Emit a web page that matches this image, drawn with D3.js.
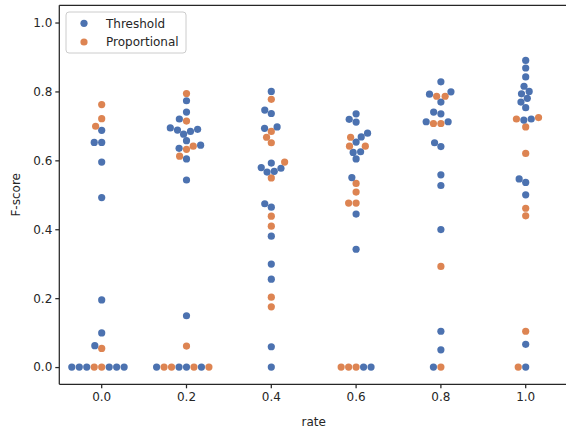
<!DOCTYPE html>
<html>
<head>
<meta charset="utf-8">
<script src="https://cdn.jsdelivr.net/npm/d3@7"></script>
<style>
  body { margin: 0; background: #fff; }
  svg { display: block; font-family: "DejaVu Sans", sans-serif; }
</style>
</head>
<body>
<div id="chart"></div>
<script>
const categories = ["0.0", "0.2", "0.4", "0.6", "0.8", "1.0"];
const seriesNames = ["Threshold", "Proportional"];
const yTicks = [0.0, 0.2, 0.4, 0.6, 0.8, 1.0];

// F-scores per rate, one list per method
const thresholdScores = [
  [0.687, 0.652, 0.652, 0.595, 0.492, 0.195, 0.099, 0.062, 0, 0, 0, 0, 0, 0],
  [0.773, 0.740, 0.720, 0.694, 0.690, 0.688, 0.684, 0.676, 0.657, 0.644, 0.635, 0.604, 0.543, 0.149, 0, 0, 0, 0],
  [0.800, 0.746, 0.736, 0.697, 0.693, 0.592, 0.579, 0.577, 0.568, 0.566, 0.474, 0.464, 0.380, 0.299, 0.255, 0.059, 0],
  [0.735, 0.719, 0.711, 0.679, 0.668, 0.653, 0.625, 0.623, 0.604, 0.550, 0.444, 0.342, 0, 0],
  [0.828, 0.799, 0.792, 0.769, 0.740, 0.735, 0.712, 0.712, 0.651, 0.640, 0.558, 0.527, 0.399, 0.104, 0.050, 0],
  [0.890, 0.868, 0.842, 0.815, 0.800, 0.793, 0.780, 0.769, 0.753, 0.720, 0.717, 0.546, 0.536, 0.500, 0.066, 0]
];
const proportionalScores = [
  [0.762, 0.721, 0.699, 0.054, 0, 0],
  [0.794, 0.714, 0.641, 0.632, 0.612, 0.061, 0, 0, 0, 0],
  [0.777, 0.684, 0.667, 0.651, 0.595, 0.549, 0.438, 0.409, 0.203, 0.175],
  [0.667, 0.641, 0.641, 0.533, 0.508, 0.476, 0.476, 0, 0, 0],
  [0.786, 0.786, 0.707, 0.707, 0.292, 0],
  [0.724, 0.720, 0.697, 0.620, 0.461, 0.439, 0.104, 0]
];
// order the tied zero scores came in (T = Threshold, P = Proportional)
const zeroOrder = ["PPTTTTTT", "TTPPTPPT", "T", "PPTPT", "PT", "TP"];

const width = 566, height = 430;
const margin = { left: 59.3, right: 568.1, top: 5.3, bottom: 384.3 };
const colors = ["#4c72b0", "#dd8452"];
const textColor = "#262626";
const R = 3.56; // marker radius used for the swarm

const svg = d3.select("#chart").append("svg")
  .attr("width", width)
  .attr("height", height);

const x = d3.scaleBand()
  .domain(categories)
  .range([margin.left, margin.right])
  .padding(0);

const y = d3.scaleLinear()
  .domain([-0.05, 1.05])
  .range([margin.bottom, margin.top]);

// seaborn style beeswarm, done in pixels
function beeswarm(points, cx) {
  const sorted = points
    .map(p => ({ ...p, py: y(p.v) }))
    .sort((a, b) => b.py - a.py); // stable: low values first
  const swarm = [];
  const d = 2 * R;
  sorted.forEach((p, idx) => {
    if (idx === 0) { swarm.push({ ...p, px: cx }); return; }
    const nb = [];
    for (let j = swarm.length - 1; j >= 0; j--) {
      if (swarm[j].py - p.py < d) nb.unshift(swarm[j]);
      else break;
    }
    const cands = [cx];
    let leftFirst = true;
    nb.forEach(n => {
      const dy = p.py - n.py;
      const dx = Math.sqrt(Math.max(d * d - dy * dy, 0)) * 1.05;
      if (leftFirst) cands.push(n.px - dx, n.px + dx);
      else cands.push(n.px + dx, n.px - dx);
      leftFirst = !leftFirst;
    });
    const order = d3.range(cands.length).sort((a, b) =>
      Math.abs(cands[a] - cx) - Math.abs(cands[b] - cx) || a - b);
    let px = cands[order[0]];
    for (const k of order) {
      const c = cands[k];
      const ok = nb.every(n => (n.px - c) ** 2 + (n.py - p.py) ** 2 >= d * d - 1e-9);
      if (ok) { px = c; break; }
    }
    swarm.push({ ...p, px });
  });
  return swarm;
}

const allPoints = [];
categories.forEach((c, i) => {
  const pts = [];
  thresholdScores[i].filter(v => v !== 0).forEach(v => pts.push({ v, s: 0 }));
  proportionalScores[i].filter(v => v !== 0).forEach(v => pts.push({ v, s: 1 }));
  zeroOrder[i].split("").forEach(ch => pts.push({ v: 0, s: ch === "T" ? 0 : 1 }));
  const cx = x(c) + x.bandwidth() / 2;
  beeswarm(pts, cx).forEach(p => allPoints.push(p));
});

// axes frame
svg.append("g")
  .attr("fill", "none")
  .attr("stroke", textColor)
  .attr("stroke-width", 1.25)
  .call(g => g.append("line")
    .attr("x1", margin.left).attr("x2", margin.left)
    .attr("y1", margin.top).attr("y2", margin.bottom))
  .call(g => g.append("line")
    .attr("x1", margin.left).attr("x2", width)
    .attr("y1", margin.bottom).attr("y2", margin.bottom))
  .call(g => g.append("line")
    .attr("x1", margin.left).attr("x2", width)
    .attr("y1", margin.top).attr("y2", margin.top));

// x axis
svg.append("g")
  .attr("transform", `translate(0,${margin.bottom})`)
  .call(d3.axisBottom(x).tickSize(4).tickPadding(4))
  .call(g => g.select(".domain").remove())
  .call(g => g.selectAll(".tick line").attr("stroke", textColor).attr("stroke-width", 1.25))
  .call(g => g.selectAll(".tick text")
    .attr("fill", textColor)
    .attr("font-size", 12)
    .attr("font-family", "DejaVu Sans"));

// y axis
svg.append("g")
  .attr("transform", `translate(${margin.left},0)`)
  .call(d3.axisLeft(y).tickValues(yTicks).tickFormat(d3.format(".1f")).tickSize(4).tickPadding(3))
  .call(g => g.select(".domain").remove())
  .call(g => g.selectAll(".tick line").attr("stroke", textColor).attr("stroke-width", 1.25))
  .call(g => g.selectAll(".tick text")
    .attr("fill", textColor)
    .attr("font-size", 12)
    .attr("font-family", "DejaVu Sans"));

// axis labels
svg.append("text")
  .attr("x", (margin.left + margin.right) / 2)
  .attr("y", 426)
  .attr("text-anchor", "middle")
  .attr("fill", textColor)
  .attr("font-size", 12)
  .text("rate");

svg.append("text")
  .attr("transform", `translate(19.5,${(margin.top + margin.bottom) / 2}) rotate(-90)`)
  .attr("text-anchor", "middle")
  .attr("fill", textColor)
  .attr("font-size", 12)
  .text("F-score");

// points
svg.append("g")
  .selectAll("circle")
  .data(allPoints)
  .enter().append("circle")
    .attr("cx", d => d.px)
    .attr("cy", d => d.py)
    .attr("r", 3.6)
    .attr("fill", d => colors[d.s]);

// legend
const legend = svg.append("g");
legend.append("rect")
  .attr("x", 66).attr("y", 12)
  .attr("width", 120).attr("height", 41)
  .attr("rx", 3)
  .attr("fill", "#fff")
  .attr("fill-opacity", 0.8)
  .attr("stroke", "#cccccc")
  .attr("stroke-width", 1);
legend.selectAll("g")
  .data(seriesNames)
  .enter().append("g")
    .attr("transform", (d, i) => `translate(84,${23.3 + i * 18.7})`)
    .call(g => g.append("circle")
      .attr("r", 3.6)
      .attr("fill", (d, i) => colors[i]))
    .call(g => g.append("text")
      .attr("x", 22)
      .attr("dy", "0.35em")
      .attr("fill", textColor)
      .attr("font-size", 12)
      .text(d => d));
</script>
</body>
</html>
